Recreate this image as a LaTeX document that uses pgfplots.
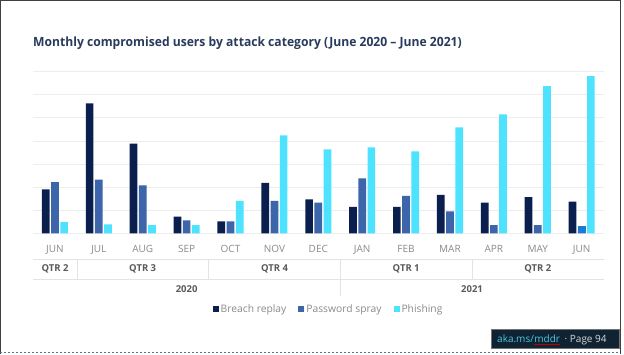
\documentclass[border=0pt]{standalone}
\usepackage{fontspec}
\setmainfont{Open Sans}
\usepackage{pgfplots}
\pgfplotsset{compat=1.18}
\pgfplotsset{sqlegend/.style={legend image code/.code={\fill[##1] (0pt,-3pt) rectangle (6pt,3pt);}}}
\definecolor{breach}{HTML}{0B1F4E}
\definecolor{spray}{HTML}{3D65A9}
\definecolor{phish}{HTML}{4DE3FF}
\definecolor{sprayhl}{HTML}{1C7AD4}
\definecolor{gridc}{HTML}{EDEDED}
\definecolor{titlec}{HTML}{283B5C}
\definecolor{labc}{HTML}{8A8A8A}
\definecolor{qtrc}{HTML}{5A5A5A}
\definecolor{sepc}{HTML}{E3E3E3}
\definecolor{badgebg}{HTML}{0F2332}
\definecolor{badgetxt}{HTML}{4FC8E3}
\begin{document}
\begin{tikzpicture}
\useasboundingbox (0,0) rectangle (624pt,-354pt);
\fill[white] (0,0) rectangle (624pt,-354pt);
% frame
\draw[black!75, line width=1.2pt] (0.6pt,-354pt) -- (0.6pt,-0.6pt) -- (620.4pt,-0.6pt) -- (620.4pt,-354pt);
\draw[cyan!55!black, line width=1.5pt, dash pattern=on 2pt off 2pt] (0pt,-352.6pt) -- (620pt,-352.6pt);
% title
\node[anchor=base west, inner sep=0, text=titlec, font=\bfseries\fontsize{12.7}{15}\selectfont] at (33pt,-46.5pt)
  {\scalebox{0.955}[1]{Monthly compromised users by attack category (June 2020 – June 2021)}};
\begin{axis}[
  at={(33pt,-233.3pt)}, anchor=south west,
  scale only axis, width=570.6pt, height=161.6pt,
  xmin=-0.5, xmax=12.5, ymin=0, ymax=7,
  ytick={0,...,7}, yticklabels={},
  ymajorgrids, grid style={gridc, line width=0.9pt},
  axis line style={draw=none}, major tick length=0pt,
  xtick={0,...,12},
  xticklabels={JUN,JUL,AUG,SEP,OCT,NOV,DEC,JAN,FEB,MAR,APR,MAY,JUN},
  xticklabel style={anchor=base, yshift=-19pt, text=labc, font=\fontsize{10}{12}\selectfont},
  ybar, bar width=7.7pt,
  clip=false,
  legend columns=3,
  legend style={at={(0.518,-0.470)}, anchor=center, draw=none, fill=none,
    font=\color{labc}\fontsize{10.3}{12}\selectfont,
    /tikz/every even column/.append style={column sep=10pt}},
]
\addplot[fill=breach, draw=none, bar shift=-9.2pt, sqlegend]
  coordinates {(0,1.90) (1,5.63) (2,3.88) (3,0.72) (4,0.52) (5,2.18) (6,1.47) (7,1.14) (8,1.14) (9,1.66) (10,1.33) (11,1.57) (12,1.37)};
\addplot[fill=spray, draw=none, bar shift=0pt, sqlegend]
  coordinates {(0,2.22) (1,2.32) (2,2.08) (3,0.56) (4,0.52) (5,1.41) (6,1.33) (7,2.38) (8,1.62) (9,0.95) (10,0.35) (11,0.35) (12,0.30)};
\addplot[fill=phish, draw=none, bar shift=9.2pt, sqlegend]
  coordinates {(0,0.48) (1,0.39) (2,0.35) (3,0.35) (4,1.41) (5,4.24) (6,3.64) (7,3.72) (8,3.55) (9,4.59) (10,5.15) (11,6.38) (12,6.81)};
\addplot[fill=sprayhl, draw=none, bar shift=0pt, forget plot]
  coordinates {(12,0.30)};
\legend{Breach replay, Password spray, Phishing}
\end{axis}
% category table rows
\draw[sepc, line width=0.8pt] (33pt,-259.3pt) -- (603.6pt,-259.3pt);
\draw[sepc, line width=0.8pt] (33pt,-279pt) -- (603.6pt,-279pt);
\foreach \x in {76.9,208.6,340.3,472} {\draw[sepc, line width=0.8pt] (\x pt,-259.3pt) -- (\x pt,-279pt);}
\draw[sepc, line width=0.8pt] (340.3pt,-279pt) -- (340.3pt,-296pt);
\begin{scope}[every node/.style={inner sep=0, text=qtrc, font=\bfseries\fontsize{9.5}{11}\selectfont}]
\node at (55pt,-269pt) {QTR 2};
\node at (142.7pt,-269pt) {QTR 3};
\node at (274.5pt,-269pt) {QTR 4};
\node at (406.2pt,-269pt) {QTR 1};
\node at (537.8pt,-269pt) {QTR 2};
\node at (186.6pt,-289pt) {2020};
\node at (472pt,-289pt) {2021};
\end{scope}
% page badge
\draw[fill=badgebg, draw=black!55, line width=0.6pt] (491.7pt,-329.7pt) rectangle (619pt,-348.3pt);
\node[anchor=base west, inner sep=0, font=\fontsize{10}{12}\selectfont, text=badgetxt] (b1) at (497pt,-342.5pt) {aka.ms/};
\node[anchor=base west, inner sep=0, font=\fontsize{10}{12}\selectfont, text=badgetxt] (b2) at (b1.base east) {mddr};
\node[anchor=base west, inner sep=0, font=\fontsize{10}{12}\selectfont, text=white!85!black] (b3) at (b2.base east) {\ \,·\ Page 94};
\draw[red!75!black, line width=0.6pt] ([yshift=-1.6pt]b2.base west) -- ([yshift=-1.6pt]b2.base east);
\end{tikzpicture}
\end{document}
